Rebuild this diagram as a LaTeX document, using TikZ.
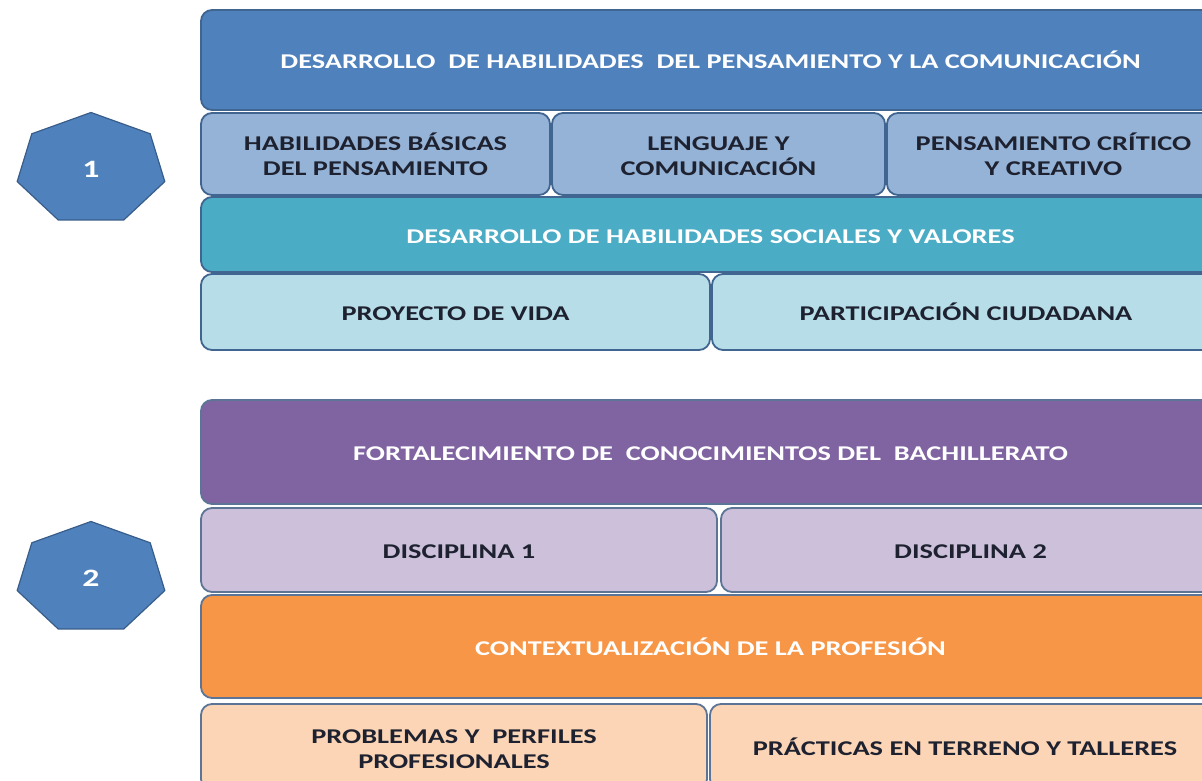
\documentclass[tikz,border=0pt]{standalone}
\usepackage{fontspec}
\setmainfont{Carlito}[FakeStretch=1.35]
\usetikzlibrary{shapes.geometric}
\definecolor{cA}{HTML}{4F81BD}
\definecolor{cB}{HTML}{95B3D7}
\definecolor{cC}{HTML}{4BACC6}
\definecolor{cD}{HTML}{B7DEE8}
\definecolor{cE}{HTML}{8064A2}
\definecolor{cF}{HTML}{CCC0DA}
\definecolor{cG}{HTML}{F79646}
\definecolor{cH}{HTML}{FBD5B5}
\definecolor{bOne}{HTML}{3F6590}
\definecolor{bTwo}{HTML}{5C7597}
\definecolor{bHept}{HTML}{385D8A}
\definecolor{txtDark}{HTML}{1E2230}
\newcommand{\ms}{\vphantom{ÁJ}}
\begin{document}
\begin{tikzpicture}[x=1pt,y=-1pt,
  cell/.style={rectangle, rounded corners=11pt, line width=1.8pt, anchor=north west,
    inner sep=0pt, outer sep=0pt, align=center,
    font=\fontsize{21}{25}\selectfont\bfseries},
  one/.style={cell, draw=bOne},
  two/.style={cell, draw=bTwo},
  light/.style={text=white},
  dark/.style={text=txtDark},
  hept/.style={regular polygon, regular polygon sides=7, minimum size=113pt,
    inner sep=0pt, outer sep=0pt, fill=cA, draw=bHept, line width=1.2pt},
  numlabel/.style={text=white, inner sep=0pt, font=\fontsize{25}{30}\selectfont\bfseries}]
\clip (0,0) rectangle (1202,781);
\fill[white] (0,0) rectangle (1202,781);

% group 1
\begin{scope}[shift={(91,169)}, xscale=1.34]
  \node[hept, transform shape] (h1) at (0,0) {};
\end{scope}
\node[numlabel] (n1) at (h1.center) {1};
\node[one, light, fill=cA, minimum width=1019pt, minimum height=100pt] (a) at (201,10)
  {\ms DESARROLLO\ \ DE HABILIDADES\ \ DEL PENSAMIENTO Y LA COMUNICACIÓN};
\node[one, dark, fill=cB, minimum width=349pt, minimum height=82pt] (b1) at (201,113)
  {\ms HABILIDADES BÁSICAS\\\ms DEL PENSAMIENTO};
\node[one, dark, fill=cB, minimum width=333pt, minimum height=82pt] (b2) at (552,113)
  {\ms LENGUAJE Y\\\ms COMUNICACIÓN};
\node[one, dark, fill=cB, minimum width=333pt, minimum height=82pt] (b3) at (887,113)
  {\ms PENSAMIENTO CRÍTICO\\\ms Y CREATIVO};
\node[one, light, fill=cC, minimum width=1019pt, minimum height=75pt] (c) at (201,197)
  {\ms DESARROLLO DE HABILIDADES SOCIALES Y VALORES};
\node[one, dark, fill=cD, minimum width=509pt, minimum height=76pt] (d1) at (201,274)
  {\ms PROYECTO DE VIDA};
\node[one, dark, fill=cD, minimum width=508pt, minimum height=76pt] (d2) at (712,274)
  {\ms PARTICIPACIÓN CIUDADANA};

% group 2
\begin{scope}[shift={(91,578)}, xscale=1.34]
  \node[hept, transform shape] (h2) at (0,0) {};
\end{scope}
\node[numlabel] (n2) at (h2.center) {2};
\node[two, light, fill=cE, minimum width=1019pt, minimum height=104pt] (e) at (201,400)
  {\ms FORTALECIMIENTO DE\ \ CONOCIMIENTOS DEL\ \ BACHILLERATO};
\node[two, dark, fill=cF, minimum width=516pt, minimum height=84pt] (f1) at (201,508)
  {\ms DISCIPLINA 1};
\node[two, dark, fill=cF, minimum width=499pt, minimum height=84pt] (f2) at (721,508)
  {\ms DISCIPLINA 2};
\node[two, light, fill=cG, minimum width=1019pt, minimum height=103pt] (g) at (201,595)
  {\ms CONTEXTUALIZACIÓN DE LA PROFESIÓN};
\node[two, dark, fill=cH, minimum width=506pt, minimum height=86pt] (h1box) at (201,704)
  {\ms PROBLEMAS Y\ \ PERFILES\\\ms PROFESIONALES};
\node[two, dark, fill=cH, minimum width=510pt, minimum height=86pt] (h2box) at (710,704)
  {\ms PRÁCTICAS EN TERRENO Y TALLERES};
\end{tikzpicture}
\end{document}
